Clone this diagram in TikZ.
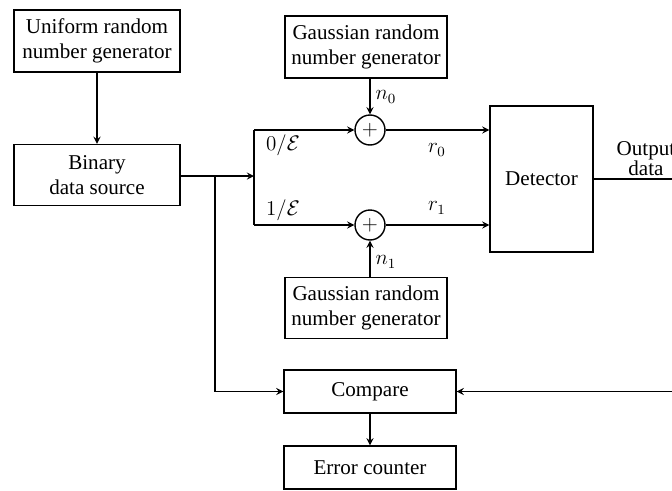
\documentclass[tikz,border=0pt]{standalone}
\usepackage{fontspec}
\setmainfont{Liberation Serif}
\begin{document}
\begin{tikzpicture}[x=0.02cm, y=-0.02cm, >=stealth, font=\fontsize{12}{14.5}\selectfont,
  block/.style={draw, line width=0.8pt, align=center, inner sep=0pt},
  adder/.style={draw, circle, line width=0.8pt, minimum size=0.6cm, inner sep=0pt},
  flow/.style={->, line width=0.8pt},
  wire/.style={line width=0.8pt},
  sig/.style={inner sep=1pt},
]
\clip (0,0) rectangle (672,490);

% ---------------------------------------------------------------- data source
\node[block, minimum width=3.32cm, minimum height=1.24cm] (unif) at (97,41) {Uniform random\\number generator};
\node[block, minimum width=3.32cm, minimum height=1.22cm] (src) at (97,175) {Binary\\data source};
\draw[flow] (unif) -- (src);
\coordinate (bus) at (254,176);
\coordinate (split) at (215,176);

% ---------------------------------------------------------------- channel
\node[block, minimum width=3.24cm, minimum height=1.24cm] (gaus0) at (366,47) {Gaussian random\\number generator};
\node[block, minimum width=3.24cm, minimum height=1.22cm] (gaus1) at (366,308) {Gaussian random\\number generator};
\node[adder] (add0) at (370,130) {$+$};
\node[adder] (add1) at (370,225) {$+$};
\node[block, minimum width=2.06cm, minimum height=2.92cm] (det) at (541.5,179) {Detector};
\draw[flow] (src.east |- split) -- (bus);
\draw[wire] (add0 -| bus) -- (add1 -| bus);
\draw[flow] (add0 -| bus) -- (add0.west);
\draw[flow] (add1 -| bus) -- (add1.west);
\draw[flow] (add0 |- gaus0.south) -- (add0.north);
\draw[flow] (add1 |- gaus1.north) -- (add1.south);
\draw[flow] (add0.east) -- (add0 -| det.west);
\draw[flow] (add1.east) -- (add1 -| det.west);
\node[sig] (n0) at (386,97) {$n_0$};
\node[sig] (n1) at (386,262) {$n_1$};
\node[sig, anchor=west] (e0) at (264,145) {$0/\mathcal{E}$};
\node[sig, anchor=west] (e1) at (264,210) {$1/\mathcal{E}$};
\node[sig] (r0) at (437,150) {$r_0$};
\node[sig] (r1) at (437,208) {$r_1$};

% ---------------------------------------------------------------- error count
\node[block, minimum width=3.44cm, minimum height=0.86cm] (cmp) at (370,391.5) {Compare};
\node[block, minimum width=3.44cm, minimum height=0.86cm] (cnt) at (370,467.5) {Error counter};
\coordinate (out) at (700,179);
\node[align=center, sig] (outlbl) at (646,159) {Output\\[-3pt]data};
\draw[flow] (det.east |- out) -- (out) |- (cmp.east);
\draw[flow] (split) |- (cmp.west);
\draw[flow] (cmp) -- (cnt);
\end{tikzpicture}
\end{document}
